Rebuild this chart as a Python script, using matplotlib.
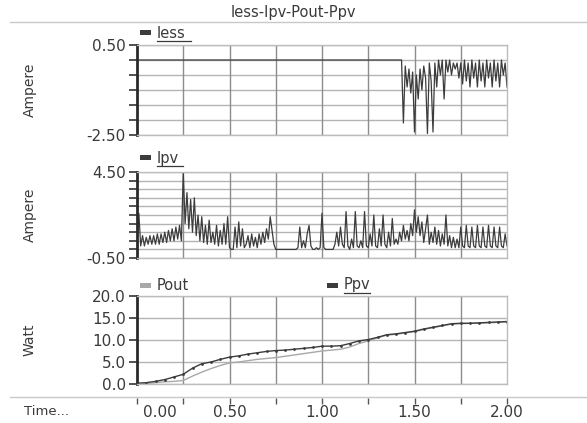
import matplotlib
matplotlib.use("Agg")
import matplotlib.pyplot as plt
from matplotlib.lines import Line2D
from matplotlib.patches import Rectangle

# ---------------- data ----------------
t_ipv = [i / 100 for i in range(201)]
ipv = [
    0.3, 2.1, 0.2, 0.8, 0.2, 0.7, 0.3, 0.8, 0.3, 0.8,   # 0.00-0.09
    0.3, 0.9, 0.3, 0.9, 0.4, 1.0, 0.4, 1.1, 0.5, 1.2,   # 0.10-0.19
    0.5, 1.3, 0.6, 1.4, 0.5, 4.5, 1.5, 3.3, 1.2, 2.9,   # 0.20-0.29
    1.0, 3.0, 0.8, 2.0, 0.5, 1.9, 0.4, 1.4, 0.3, 1.7,   # 0.30-0.39
    0.4, 1.0, 0.3, 1.4, 0.2, 1.1, 0.3, 1.5, 0.3, 1.9,   # 0.40-0.49
    0.1, 0.0, 0.0, 1.3, 0.1, 1.6, 0.2, 1.2, 0.1, 0.3,   # 0.50-0.59
    0.8, 0.1, 0.9, 0.2, 0.7, 0.1, 0.9, 0.3, 1.0, 0.4,   # 0.60-0.69
    1.2, 0.6, 1.9, 1.1, 0.3, 0.0, 0.0, 0.0, 0.0, 0.0,   # 0.70-0.79
    0.0, 0.0, 0.0, 0.0, 0.0, 0.0, 0.0, 0.1, 1.3, 0.1,   # 0.80-0.89
    0.5, 0.1, 0.9, 1.4, 0.2, 0.0, 0.0, 0.1, 0.0, 0.1,   # 0.90-0.99
    2.1, 0.1, 0.0, 0.0, 0.0, 0.0, 0.0, 0.3, 1.0, 0.2,   # 1.00-1.09
    1.3, 0.3, 0.1, 2.2, 0.2, 0.0, 0.6, 0.1, 2.2, 0.2,   # 1.10-1.19
    0.1, 0.5, 0.1, 2.2, 0.2, 0.1, 0.9, 0.2, 2.0, 0.2,   # 1.20-1.29
    0.1, 1.2, 0.2, 2.0, 0.3, 0.1, 1.0, 0.2, 1.8, 0.3,   # 1.30-1.39
    0.6, 0.3, 1.0, 0.5, 1.4, 0.6, 1.1, 0.5, 1.5, 0.8,   # 1.40-1.49
    2.3, 1.0, 1.9, 0.8, 1.6, 0.4, 1.2, 2.0, 0.3, 1.0,   # 1.50-1.59
    0.4, 1.3, 0.3, 1.1, 0.2, 0.9, 0.3, 2.0, 0.2, 0.8,   # 1.60-1.69
    0.1, 0.7, 0.1, 0.6, 0.1, 1.3, 0.2, 0.1, 1.4, 0.2,   # 1.70-1.79
    0.1, 1.3, 0.2, 0.1, 1.4, 0.2, 0.1, 1.3, 0.2, 0.1,   # 1.80-1.89
    1.4, 0.2, 0.1, 1.3, 0.2, 0.1, 1.3, 0.2, 0.1, 0.9,   # 1.90-1.99
    0.2,                                                # 2.00
]

t_iess = [0.0] + [i / 100 for i in range(143, 201)]
iess = [0.0,
    0.0, -2.1, -0.2, -0.9, -0.3, -1.1, -0.4, -2.4, -0.5, -1.3,
    -0.3, -1.0, -0.2, -0.6, -2.45, -0.1, -0.7, -2.4, -0.1, -0.9,
    0.0, -0.5, 0.0, -1.3, 0.0, -0.4, 0.0, -0.5, -0.1, -0.3,
    -0.1, -0.6, -0.1, -0.8, 0.0, -0.7, -0.1, -0.9, 0.0, -0.6,
    -0.1, -0.9, 0.0, -0.7, -0.1, -0.9, 0.0, -0.6, -0.1, -0.9,
    0.0, -0.7, -0.1, -0.9, 0.0, -0.5, -0.1, -0.9,
]

t_pw = [i * 0.05 for i in range(41)]
ppv = [0.2, 0.3, 0.6, 1.0, 1.6, 2.2, 3.6, 4.6, 5.0, 5.6,
       6.1, 6.4, 6.8, 7.1, 7.4, 7.6, 7.7, 7.9, 8.1, 8.3,
       8.6, 8.6, 8.7, 9.2, 9.8, 10.1, 10.6, 11.2, 11.4, 11.7,
       12.0, 12.5, 12.9, 13.3, 13.7, 13.8, 13.8, 13.9, 14.0, 14.1, 14.2]
pout = [0.0, 0.1, 0.3, 0.5, 0.6, 0.8, 1.8, 2.7, 3.5, 4.2,
        4.8, 5.0, 5.3, 5.6, 5.8, 6.0, 6.3, 6.6, 6.9, 7.2,
        7.5, 7.7, 7.9, 8.4, 9.2, 9.8, 10.5, 11.1, 11.3, 11.6,
        11.9, 12.4, 12.8, 13.2, 13.6, 13.7, 13.8, 13.8, 13.9, 14.0, 14.1]

title = "Iess-Ipv-Pout-Ppv"
time_ticks = [0.0, 0.5, 1.0, 1.5, 2.0]
time_labels = ["0.00", "0.50", "1.00", "1.50", "2.00"]

# ---------------- style ----------------
plt.rcParams['font.family'] = ['DejaVu Sans']
TXT = '#3a3a3a'
DARK = '#3c3c3c'
LIGHT = '#a8a8a8'
GRID_H = '#b4b4b4'
GRID_V = '#8c8c8c'

W, H = 587, 423
fig = plt.figure(figsize=(W / 100, H / 100), dpi=100)
fig.patch.set_facecolor('white')


def fx(px):
    return px / W


def fy(py):
    return 1 - py / H


def make_axes(top, bottom, ylim, yticks, ylabels, ylab):
    ax = fig.add_axes([fx(137), fy(bottom), fx(507) - fx(137), fy(top) - fy(bottom)])
    ax.set_xlim(0, 2)
    ax.set_ylim(*ylim)
    ax.set_xticks([i * 0.25 for i in range(9)])
    ax.set_xticklabels([])
    ax.tick_params(axis='x', length=0)
    ax.set_yticks(yticks)
    ax.set_yticklabels(ylabels, fontsize=11, color=TXT)
    ax.tick_params(axis='y', direction='out', length=6, width=1.2, color='#333333', pad=2)
    for yv in yticks:
        ax.axhline(yv, color=GRID_H, lw=1.0, zorder=0)
    for xv in [i * 0.25 for i in range(1, 8)]:
        ax.axvline(xv, color=GRID_V, lw=1.0, zorder=0)
    ax.spines['left'].set_color('#2a2a2a')
    ax.spines['left'].set_linewidth(2.0)
    for s in ['top', 'right', 'bottom']:
        ax.spines[s].set_color('#bdbdbd')
        ax.spines[s].set_linewidth(1.0)
    fig.text(fx(30), (fy(top) + fy(bottom)) / 2, ylab, rotation=90, ha='center',
             va='center', fontsize=10, color=TXT)
    return ax


def legend_item(x, y, label, color, underline):
    fig.patches.append(Rectangle((fx(x), fy(y + 2.5)), fx(11), 5 / H, transform=fig.transFigure,
                                 facecolor=color, edgecolor='none'))
    t = fig.text(fx(x + 17), fy(y), label, ha='left', va='center', fontsize=10.5, color=TXT)
    if underline:
        n = len(label)
        fig.lines.append(Line2D([fx(x + 17), fx(x + 17 + n * 8.6)], [fy(y + 8), fy(y + 8)],
                                transform=fig.transFigure, color=TXT, lw=0.9))
    return t


# title and separators
fig.text(fx(293), fy(12), title, ha='center', va='center', fontsize=10.5, color=TXT)
for yy in [22, 397]:
    fig.lines.append(Line2D([fx(10), fx(587)], [fy(yy), fy(yy)], transform=fig.transFigure,
                            color='#c8c8c8', lw=1.0))

# panel 1: Iess
ax1 = make_axes(45, 135, (-2.5, 0.5), [0.5, 0.0, -0.5, -1.0, -1.5, -2.0, -2.5],
                ["0.50", "", "", "", "", "", "-2.50"], "Ampere")
ax1.plot(t_iess, iess, color=DARK, lw=0.9)
legend_item(140, 33, "Iess", DARK, True)

# panel 2: Ipv
ax2 = make_axes(172, 258, (-0.5, 4.5), [4.5 - 0.5 * i for i in range(11)],
                ["4.50"] + [""] * 9 + ["-0.50"], "Ampere")
ax2.plot(t_ipv, ipv, color=DARK, lw=0.9)
legend_item(140, 158, "Ipv", DARK, True)

# panel 3: Pout / Ppv
ax3 = make_axes(296, 384, (0, 20), [20, 15, 10, 5, 0],
                ["20.0", "15.0", "10.0", "5.0", "0.0"], "Watt")
ax3.plot(t_pw, pout, color=LIGHT, lw=1.0)
ax3.plot(t_pw, ppv, color=DARK, lw=1.0, marker='.', markersize=2)
legend_item(140, 285, "Pout", LIGHT, False)
legend_item(327, 285, "Ppv", DARK, True)

# time axis strip
axt = fig.add_axes([fx(137), fy(420), fx(507) - fx(137), fy(398) - fy(420)])
axt.set_xlim(0, 2)
axt.set_ylim(0, 1)
axt.patch.set_alpha(0)
for s in ['top', 'right', 'left', 'bottom']:
    axt.spines[s].set_visible(False)
axt.set_yticks([])
axt.xaxis.set_ticks_position('top')
axt.set_xticks([i * 0.25 for i in range(9)])
axt.set_xticklabels([])
axt.tick_params(axis='x', direction='in', length=4, color='#555555', width=1.0)
for v, lab in zip(time_ticks, time_labels):
    ha = 'left' if v == 0 else 'center'
    axt.text(v if v > 0 else 0.03, 0.32, lab, ha=ha, va='center', fontsize=11,
             color=TXT, transform=axt.transData)
fig.text(fx(24), fy(411), "Time...", ha='left', va='center', fontsize=9.5, color=TXT)

fig.savefig("out.png", dpi=100, facecolor='white')
